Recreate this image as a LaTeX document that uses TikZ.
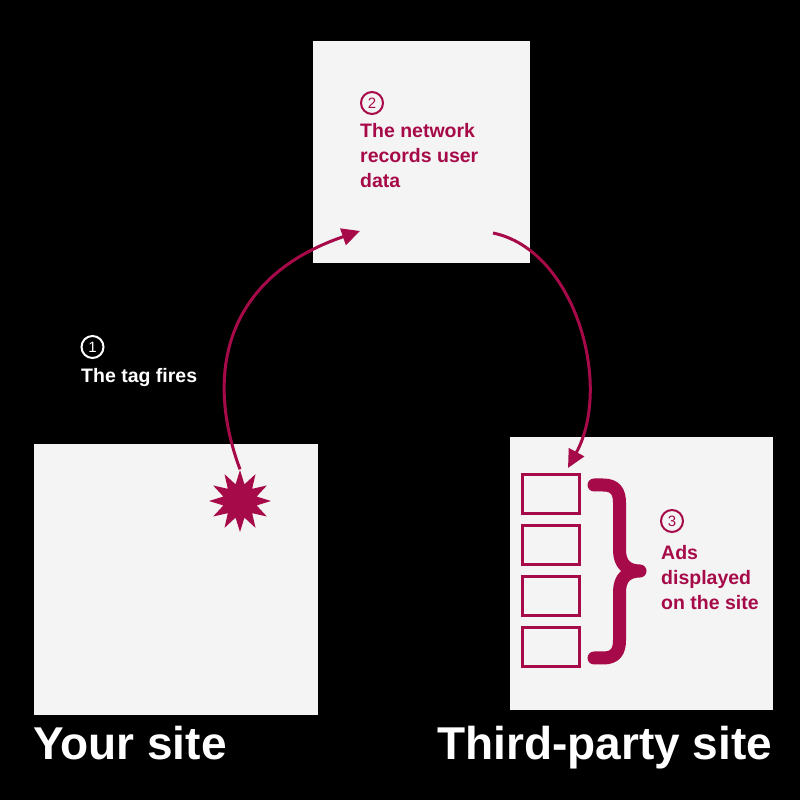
\documentclass[tikz,border=0pt]{standalone}
\usepackage{fontspec}
\setmainfont{Liberation Sans}
\usetikzlibrary{positioning, shapes.geometric, arrows.meta}
\definecolor{crimson}{RGB}{166,10,72}
\definecolor{paper}{RGB}{244,244,244}

\begin{document}
\begin{tikzpicture}
        [
            x=1pt, y=1pt,
            site/.style={fill=paper, draw=none, inner sep=0pt},
            adbox/.style={draw=crimson, line width=3pt, minimum width=57pt,
                          minimum height=39pt, inner sep=0pt},
            num/.style={circle, draw=#1, line width=2pt, minimum size=22pt,
                        inner sep=0pt, text=#1, font=\fontsize{15}{15}\selectfont},
            note/.style={font=\bfseries\fontsize{19.5}{25}\selectfont,
                         align=left, inner sep=0pt},
            title/.style={text=white, font=\bfseries\fontsize{46}{46}\selectfont,
                          inner sep=0pt, anchor=base west},
            flow/.style={draw=crimson, line width=3pt,
                         -{Triangle[length=18pt,width=17pt]}}
        ]
        \fill [black] (0,0) rectangle (800,800);
        % the three sites
        \node (net) [site, minimum width=217pt, minimum height=222pt] at (421.5,648) {};
        \node (your) [site, minimum width=284pt, minimum height=271pt] at (176,220.5) {};
        \node (third) [site, minimum width=263pt, minimum height=273pt] at (641.5,226.5) {};
        \node (yourtitle) [title] at (33,40) {Your site};
        \node (thirdtitle) [title] at (437,40) {Third-party site};
        % ad slots
        \node (ad1) [adbox] at (551,306) {};
        \foreach \i [remember=\i as \j (initially 1)] in {2,3,4}
            \node (ad\i) [adbox, below=9pt of ad\j] {};
        \draw [crimson, line width=13pt, line cap=round, line join=round]
            (594,315) -- (603,315) .. controls (615,315) and (619.5,309) .. (619.5,297)
            -- (619.5,250) .. controls (619.5,236) and (627,229) .. (640,229)
            .. controls (627,229) and (619.5,222) .. (619.5,208)
            -- (619.5,160) .. controls (619.5,148) and (615,142) .. (603,142) -- (594,142);
        % tag
        \node (fire) [star, star points=12, star point ratio=1.8, fill=crimson,
                      minimum size=62pt, inner sep=0pt] at (240,299) {};
        % steps
        \node (n1) [num=white] at (92.5,453) {1};
        \node (tagtxt) [note, text=white, anchor=base west] at (81,417) {The tag fires};
        \node (n2) [num=crimson] at (372,697) {2};
        \node (nettxt) [note, text=crimson, anchor=north west] at (360,677)
            {The network\\records user\\data};
        \node (n3) [num=crimson] at (672,279) {3};
        \node (adtxt) [note, text=crimson, anchor=north west] at (661,255)
            {Ads\\displayed\\on the site};
        % connectors
        \coordinate (netin) at (360,569);
        \coordinate (netout) at (493,567);
        \coordinate (adin) at (568,332);
        \draw [flow] (fire.north) .. controls (203,430) and (228,524) .. (netin);
        \draw [flow] (netout) .. controls (575,550) and (613,415) .. (adin);
    \end{tikzpicture}
\end{document}
